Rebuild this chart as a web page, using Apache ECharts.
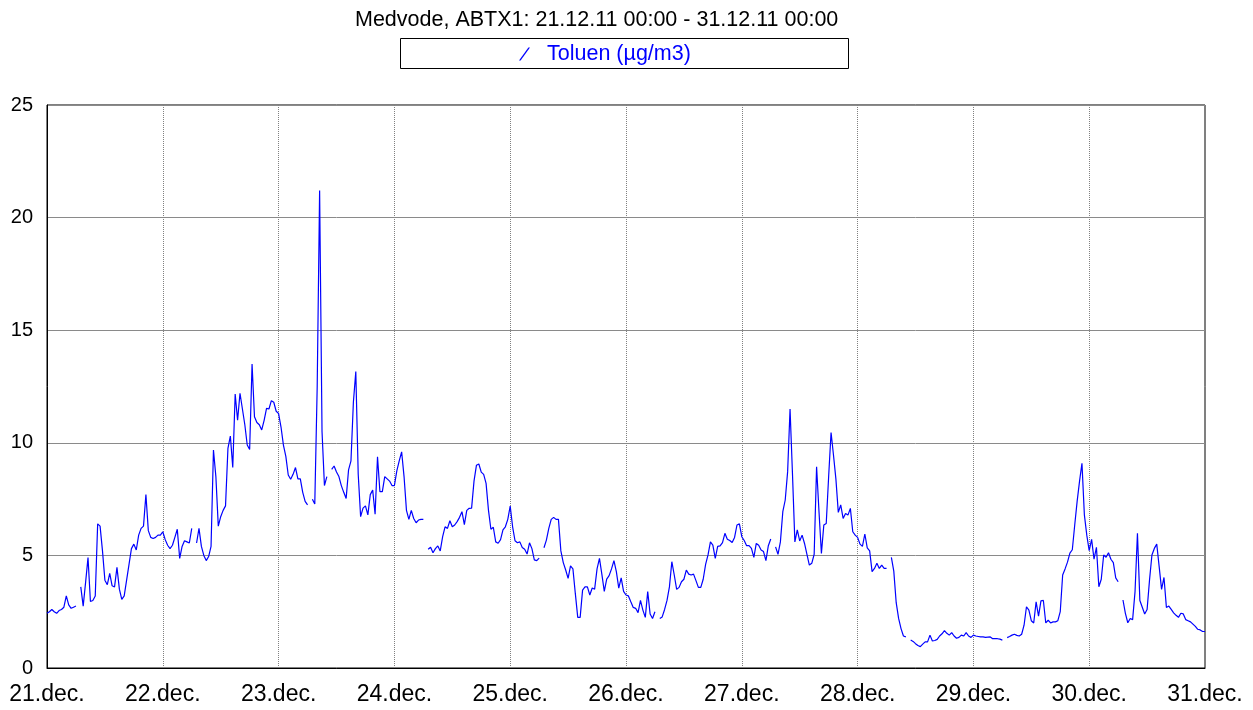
<!DOCTYPE html>
<html>
<head>
<meta charset="utf-8">
<title>Medvode, ABTX1 - Toluen</title>
<script src="https://cdn.jsdelivr.net/npm/echarts@6/dist/echarts.min.js"></script>
<style>
  html, body { margin: 0; padding: 0; background: #fff; }
  #chart { width: 1253px; height: 710px; }
</style>
</head>
<body>
<div id="chart"></div>
<script>
// half-hourly toluene values (µg/m3), one array per day, null = missing
var dayLabels = ['21.dec.', '22.dec.', '23.dec.', '24.dec.', '25.dec.', '26.dec.', '27.dec.', '28.dec.', '29.dec.', '30.dec.', '31.dec.'];
var dec21 = [2.43, 2.5, 2.6, 2.5, 2.43, 2.55, 2.6, 2.7, 3.2, 2.8, 2.65, 2.7, 2.75, null, 3.6, 2.75, 3.8, 4.9, 2.95, 3.0, 3.2, 6.4, 6.3, 5.2, 3.9, 3.7, 4.2, 3.65, 3.6, 4.47, 3.5, 3.05, 3.2, 3.9, 4.6, 5.3, 5.5, 5.24, 5.9, 6.2, 6.3, 7.7, 6.1, 5.8, 5.75, 5.8, 5.9, 5.9];
var dec22 = [6.05, 5.7, 5.45, 5.3, 5.45, 5.8, 6.16, 4.87, 5.4, 5.65, 5.6, 5.55, 6.2, null, 5.55, 6.2, 5.4, 5.0, 4.77, 4.95, 5.4, 9.68, 8.5, 6.3, 6.72, 7.0, 7.2, 9.75, 10.3, 8.9, 12.17, 11.0, 12.2, 11.5, 10.8, 9.9, 9.7, 13.5, 11.16, 10.9, 10.8, 10.57, 11.0, 11.53, 11.5, 11.87, 11.8, 11.4];
var dec23 = [11.3, 10.7, 9.9, 9.4, 8.57, 8.38, 8.6, 8.9, 8.4, 8.4, 7.8, 7.4, 7.24, null, 7.49, 7.28, 12.5, 21.2, 10.5, 8.1, 8.5, null, 8.82, 8.97, 8.7, 8.5, 8.1, 7.8, 7.53, 8.8, 9.2, 11.8, 13.16, 8.6, 6.72, 7.1, 7.2, 6.8, 7.7, 7.9, 6.83, 9.38, 7.83, 7.83, 8.5, 8.4, 8.3, 8.1];
var dec24 = [8.1, 8.75, 9.2, 9.6, 8.5, 7.0, 6.6, 7.0, 6.64, 6.45, 6.57, 6.6, 6.6, null, 5.27, 5.36, 5.12, 5.3, 5.42, 5.2, 5.83, 6.27, 6.2, 6.54, 6.27, 6.35, 6.5, 6.69, 6.94, 6.37, 7.0, 7.09, 7.1, 8.3, 9.0, 9.06, 8.7, 8.6, 8.2, 7.0, 6.16, 6.25, 5.6, 5.54, 5.7, 6.13, 6.27, 6.6];
var dec25 = [7.19, 6.27, 5.65, 5.56, 5.6, 5.35, 5.27, 5.06, 5.56, 5.3, 4.8, 4.77, 4.88, null, 5.34, 5.68, 6.2, 6.6, 6.69, 6.6, 6.6, 5.2, 4.68, 4.35, 3.98, 4.53, 4.4, 3.3, 2.25, 2.25, 3.46, 3.6, 3.6, 3.24, 3.55, 3.5, 4.4, 4.87, 4.16, 3.4, 3.95, 4.1, 4.4, 4.77, 4.28, 3.55, 4.0, 3.4];
var dec26 = [3.24, 3.2, 2.94, 2.69, 2.65, 2.46, 3.0, 2.57, 2.25, 3.39, 2.4, 2.2, 2.5, null, 2.2, 2.27, 2.6, 3.0, 3.6, 4.72, 4.13, 3.49, 3.58, 3.83, 3.94, 4.35, 4.17, 4.13, 4.17, 3.88, 3.58, 3.58, 3.94, 4.6, 5.02, 5.6, 5.46, 4.87, 5.4, 5.42, 5.57, 5.98, 5.72, 5.66, 5.57, 5.8, 6.35, 6.4];
var dec27 = [5.83, 5.66, 5.43, 5.43, 5.31, 4.91, 5.53, 5.45, 5.24, 5.17, 4.77, 5.43, 5.73, null, 5.38, 5.05, 5.6, 6.94, 7.46, 8.72, 11.5, 8.64, 5.6, 6.13, 5.64, 5.9, 5.53, 5.05, 4.57, 4.65, 5.05, 8.94, 6.94, 5.09, 6.35, 6.42, 8.5, 10.46, 9.46, 8.4, 6.91, 7.24, 6.64, 6.86, 6.79, 7.09, 6.05, 5.9];
var dec28 = [5.8, 5.5, 5.4, 5.95, 5.33, 5.2, 4.28, 4.42, 4.65, 4.42, 4.57, 4.42, 4.42, null, 4.91, 4.3, 2.9, 2.2, 1.75, 1.42, 1.38, null, 1.24, 1.18, 1.08, 1.0, 0.95, 1.06, 1.16, 1.16, 1.46, 1.2, 1.22, 1.27, 1.42, 1.52, 1.66, 1.54, 1.46, 1.57, 1.42, 1.32, 1.36, 1.46, 1.42, 1.57, 1.42, 1.36];
var dec29 = [1.46, 1.42, 1.4, 1.38, 1.38, 1.36, 1.37, 1.38, 1.3, 1.3, 1.3, 1.28, 1.24, null, 1.35, 1.4, 1.46, 1.5, 1.45, 1.42, 1.5, 1.9, 2.72, 2.57, 2.1, 2.0, 2.94, 2.3, 2.98, 3.0, 2.0, 2.12, 2.0, 2.05, 2.05, 2.1, 2.5, 4.13, 4.4, 4.7, 5.1, 5.25, 6.35, 7.4, 8.3, 9.09, 6.8, 5.9];
var dec30 = [5.21, 5.71, 4.83, 5.36, 3.61, 3.94, 5.02, 4.92, 5.12, 4.83, 4.68, 4.0, 3.83, null, 3.02, 2.43, 2.01, 2.2, 2.15, 3.39, 5.98, 3.0, 2.7, 2.4, 2.6, 3.9, 5.02, 5.31, 5.5, 4.5, 3.49, 4.02, 2.69, 2.75, 2.6, 2.45, 2.34, 2.25, 2.43, 2.4, 2.15, 2.1, 2.05, 1.95, 1.85, 1.72, 1.69, 1.62];
var dec31 = [1.62];
var days = [dec21, dec22, dec23, dec24, dec25, dec26, dec27, dec28, dec29, dec30, dec31];

var seriesName = 'Toluen (µg/m3)';
var font = 'Liberation Sans, Arial, sans-serif';

// x is hours since 21.12. 00:00
function buildData() {
  var out = [];
  days.forEach(function (vals, d) {
    vals.forEach(function (v, i) {
      out.push([d * 24 + i * 0.5, v]);
    });
  });
  return out;
}

var chart = echarts.init(document.getElementById('chart'), null, { renderer: 'canvas' });
chart.setOption({
  animation: false,
  backgroundColor: '#fff',
  title: {
    text: 'Medvode, ABTX1: 21.12.11 00:00 - 31.12.11 00:00',
    left: 355,
    top: 9,
    padding: 0,
    textStyle: { fontFamily: font, fontSize: 21.5, fontWeight: 'normal', color: '#000' }
  },
  graphic: [{
    type: 'rect',
    shape: { x: 400.5, y: 38.5, width: 448, height: 30 },
    style: { fill: 'none', stroke: '#000', lineWidth: 1 },
    silent: true
  }],
  legend: {
    left: 519,
    top: 43,
    padding: 0,
    itemWidth: 11,
    itemHeight: 13,
    icon: 'path://M0,13 L1.6,13 L11,0 L9.4,0 Z',
    textStyle: { fontFamily: font, fontSize: 21.5, color: '#0000ff', padding: [1, 0, 0, 12] },
    data: [seriesName]
  },
  grid: {
    left: 47,
    right: 48,
    top: 105,
    bottom: 42,
    show: true,
    borderColor: '#000',
    borderWidth: 1
  },
  xAxis: {
    type: 'value',
    min: 0,
    max: 240,
    interval: 24,
    axisLine: { lineStyle: { color: '#000', width: 1 } },
    axisTick: { show: false },
    axisLabel: {
      margin: 15,
      fontFamily: font,
      fontSize: 23,
      color: '#000',
      formatter: function (v) { return dayLabels[Math.round(v / 24)]; }
    },
    splitLine: { lineStyle: { color: '#808080', type: 'dotted', width: 1 } }
  },
  yAxis: {
    type: 'value',
    min: 0,
    max: 25,
    interval: 5,
    axisLine: { show: true, lineStyle: { color: '#000', width: 1 } },
    axisTick: { show: false },
    axisLabel: { margin: 14, fontFamily: font, fontSize: 20, color: '#000' },
    splitLine: { lineStyle: { color: '#8a8a8a', width: 1 } }
  },
  series: [{
    name: seriesName,
    type: 'line',
    data: buildData(),
    showSymbol: false,
    connectNulls: false,
    silent: true,
    itemStyle: { color: '#0000ff' },
    lineStyle: { color: '#0000ff', width: 1.2 }
  }]
});
</script>
</body>
</html>
